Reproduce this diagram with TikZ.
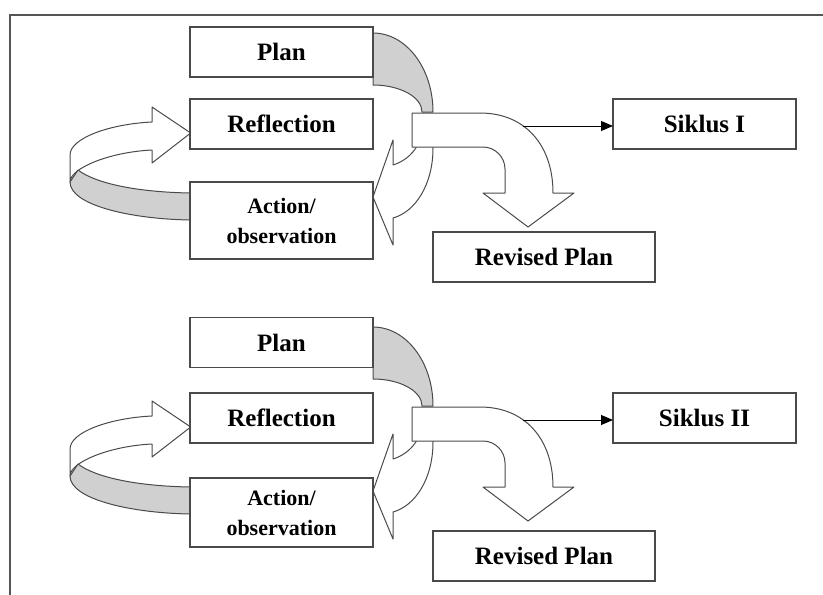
\documentclass[tikz,border=0pt]{standalone}
\usepackage{fontspec}
\setmainfont{Liberation Serif}
\usetikzlibrary{arrows.meta}
\definecolor{edge}{HTML}{4A4A4A}
\definecolor{band}{HTML}{D0D0D0}
\definecolor{framec}{HTML}{555555}
\tikzset{
  box/.style={draw=edge, line width=1.3pt, fill=white, inner sep=0pt, outer sep=0pt,
    minimum width=183pt, minimum height=50pt, align=center,
    font=\bfseries\fontsize{25}{29}\selectfont},
  smallbox/.style={box, font=\bfseries\fontsize{22}{30}\selectfont},
  shapeline/.style={draw=edge, line width=1pt, line join=round},
  link/.style={draw=black, line width=1pt, -{Triangle[length=12pt,width=10pt]}}
}
% #1 offset, #2 suffix, #3 label, #4 plan y, #5 action top, #6 action bottom, #7 revised y
\newcommand\cyclepart[7]{%
\begin{scope}[shift={(0,#1)}]
  % left loop: back face (white) with arrow head
  \path[shapeline, fill=white] (70,155) .. controls (70,138) and (110,124) .. (152,122)
     -- (152,107) -- (190.7,133) -- (152,163) -- (152,150)
     .. controls (110,152) and (70,168) .. (70,182) -- cycle;
  % left loop: front face (gray)
  \path[shapeline, fill=band] (78,170) .. controls (95,183) and (135,192) .. (190,193)
     -- (190,220) .. controls (130,219) and (70,205) .. (70,182) -- cycle;
  % gray band from Plan
  \path[shapeline, fill=band] (373,33) .. controls (406,33) and (433,68) .. (433,112)
     -- (422,112) .. controls (422,97) and (400,85) .. (373,85) -- cycle;
  % white curved arrow towards Action
  \path[shapeline, fill=white] (433,120) -- (433,148) .. controls (433,185) and (415,212) .. (393,218)
     -- (393,245) -- (373,197) -- (393,140) -- (393,165)
     .. controls (403,162) and (412,155) .. (417,146) -- (417,120) -- cycle;
  % bent arrow towards Revised Plan
  \path[shapeline, fill=white] (412,113) -- (480,113) .. controls (525,113) and (553,145) .. (553,193)
     -- (574,193) -- (528,227) -- (483,193) -- (505,193) -- (505,169)
     .. controls (505,157) and (495,147) .. (483,147) -- (412,147) -- cycle;
  \coordinate (out#2) at (522.5,126);
  % boxes
  \node[box] (plan#2) at (281.5,#4) {Plan};
  \node[box] (refl#2) at (281.5,124) {Reflection};
  \node[smallbox, minimum height=#6pt-#5pt] (act#2) at (281.5,{(#5+#6)/2}) {Action/\\observation};
  \node[box] (sik#2) at (704.5,124) {#3};
  \node[box, minimum width=222pt] (rev#2) at (544,#7) {Revised Plan};
  \draw[link] (out#2) -- (out#2 -| sik#2.west);
\end{scope}}
\begin{document}
\begin{tikzpicture}[x=1pt, y=-1pt]
  \useasboundingbox[fill=white] (0,0) rectangle (823,595);
  \draw[framec, line width=1.5pt] (823,15) -- (10,15) -- (10,595);
  \cyclepart{0}{a}{Siklus I}{52}{182}{259}{257}
  \cyclepart{294}{b}{Siklus II}{48.5}{184}{253}{262}
\end{tikzpicture}
\end{document}
